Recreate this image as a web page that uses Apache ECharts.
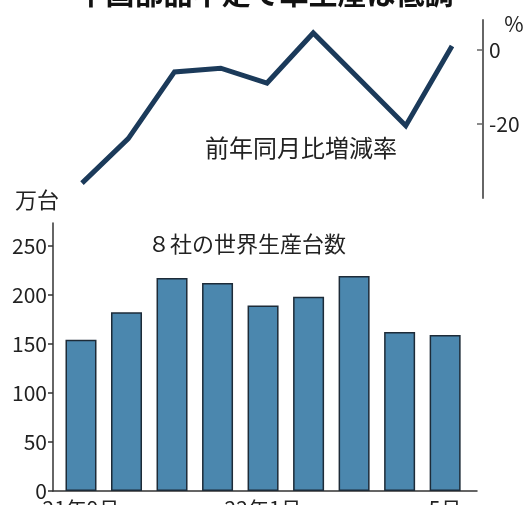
<!DOCTYPE html>
<html><head><meta charset="utf-8">
<script src="https://cdn.jsdelivr.net/npm/echarts@6/dist/echarts.min.js"></script>
<style>html,body{margin:0;padding:0;background:#fff}#c{width:530px;height:505px}</style>
</head><body><div id="c"></div>
<script>
// ---- data ----
const categories = ['21年9月','21年10月','21年11月','21年12月','22年1月','22年2月','22年3月','22年4月','22年5月'];
const axisLabels = ['21年9月','','','','22年1月','','','','5月'];
const production = [154, 182, 217, 212, 189, 198, 219, 162, 159];   // 万台
const changeRate = [-36, -24, -6, -5, -9, 4.5, -8, -20.5, 1];         // %
const prodTicks = [0, 50, 100, 150, 200, 250];
const rateTicks = [0, -20];
const labelTicks = [0, 4, 8];

const FONT = '"Noto Sans CJK JP", "Noto Sans", sans-serif';
const chart = echarts.init(document.getElementById('c'), null, {renderer: 'canvas'});
chart.setOption({
  animation: false,
  backgroundColor: '#fff',
  textStyle: {fontFamily: FONT},
  grid: [
    {left: 53, right: 47, top: 20, bottom: 307, containLabel: false, outerBoundsMode: 'none'},
    {left: 53, right: 53, top: 223, bottom: 14, containLabel: false, outerBoundsMode: 'none'}
  ],
  xAxis: [
    {gridIndex: 0, type: 'value', min: -0.627, max: 8.67, show: false},
    {gridIndex: 1, type: 'value', min: -0.615, max: 8.70,
     axisLine: {show: true, onZero: false, lineStyle: {color: '#333', width: 1.5}},
     axisTick: {show: false}, splitLine: {show: false},
     axisLabel: {customValues: labelTicks, formatter: v => axisLabels[Math.round(v)],
                 fontSize: 21, color: '#222', margin: 8, fontFamily: FONT}}
  ],
  yAxis: [
    {gridIndex: 0, type: 'value', position: 'right', min: -40, max: 8,
     axisLine: {show: true, onZero: false, lineStyle: {color: '#666', width: 2}},
     axisTick: {show: true, inside: true, customValues: rateTicks, length: 6, lineStyle: {color: '#666', width: 1.5}},
     axisLabel: {customValues: rateTicks, fontSize: 21, color: '#222', margin: 6, fontFamily: FONT},
     splitLine: {show: false}},
    {gridIndex: 1, type: 'value', min: 0, max: 273,
     axisLine: {show: true, onZero: false, lineStyle: {color: '#333', width: 1.5}},
     axisTick: {show: true, customValues: prodTicks, length: 5, lineStyle: {color: '#333', width: 1.5}},
     axisLabel: {customValues: prodTicks, fontSize: 21, color: '#222', margin: 6, fontFamily: FONT},
     splitLine: {show: false}}
  ],
  series: [
    {type: 'line', xAxisIndex: 0, yAxisIndex: 0, showSymbol: false, silent: true,
     data: changeRate.map((v, i) => [i, v]),
     lineStyle: {color: '#1b3a5a', width: 5, join: 'miter'}},
    {type: 'bar', xAxisIndex: 1, yAxisIndex: 1, barWidth: 31, silent: true,
     data: production.map((v, i) => [i, v]),
     itemStyle: {color: '#4b87ae', borderColor: '#1d2b38', borderWidth: 1.5}}
  ],
  graphic: [
    {type: 'text', x: 265, y: -21, style: {text: '中国部品不足で車生産は低調', fontSize: 29, fontWeight: 'bold', fontFamily: FONT, fill: '#111', align: 'center', verticalAlign: 'top'}},
    {type: 'text', x: 514, y: 24, style: {text: '%', fontSize: 21, fontFamily: FONT, fill: '#222', align: 'center', verticalAlign: 'middle'}},
    {type: 'text', x: 301, y: 148, style: {text: '前年同月比増減率', fontSize: 24, fontFamily: FONT, fill: '#222', align: 'center', verticalAlign: 'middle'}},
    {type: 'text', x: 15, y: 200, style: {text: '万台', fontSize: 22, fontFamily: FONT, fill: '#222', align: 'left', verticalAlign: 'middle'}},
    {type: 'text', x: 247, y: 244, style: {text: '８社の世界生産台数', fontSize: 22, fontFamily: FONT, fill: '#222', align: 'center', verticalAlign: 'middle'}}
  ]
});
</script></body></html>
